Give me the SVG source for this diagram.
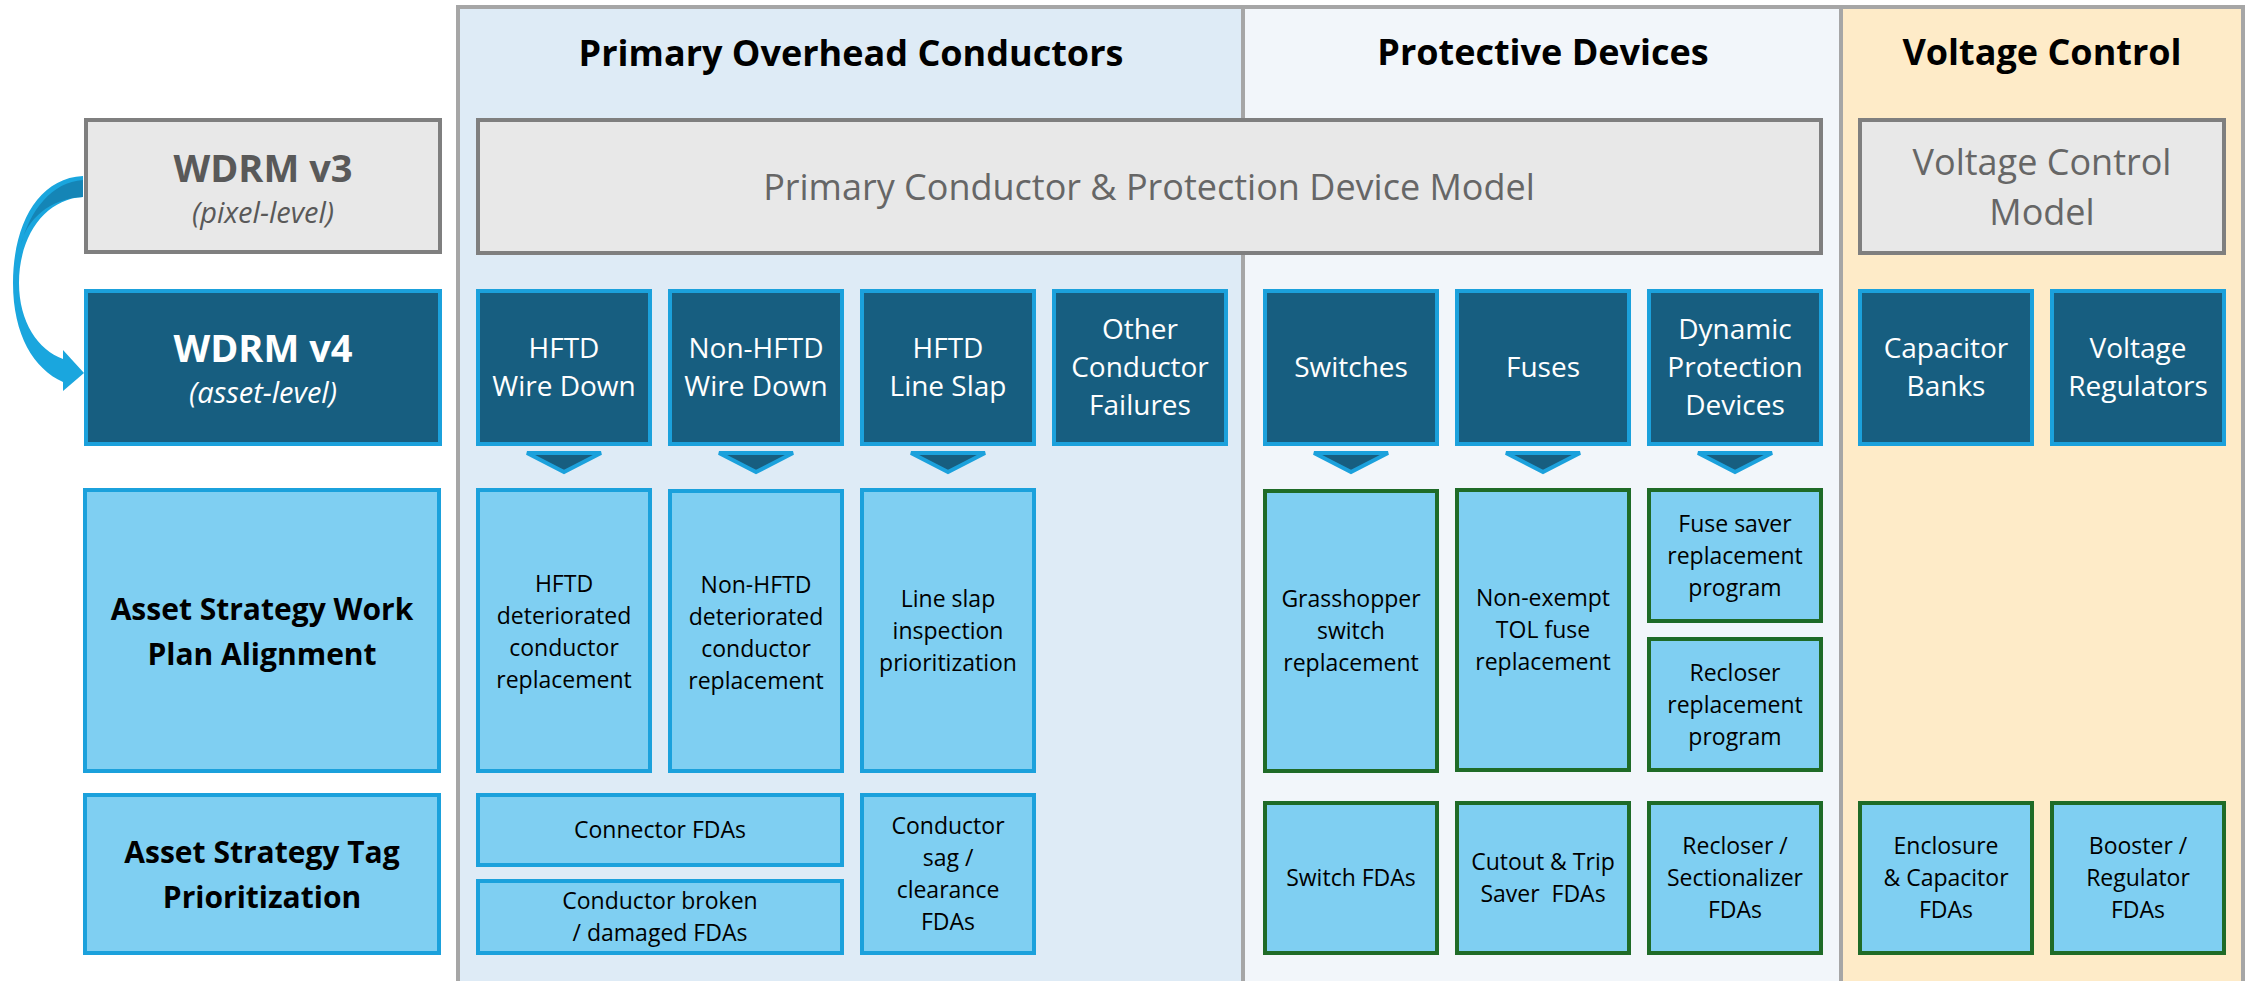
<svg xmlns="http://www.w3.org/2000/svg" width="2246" height="981" viewBox="0 0 2246 981">
  <style>
    .panel { stroke: #a6a6a6; stroke-width: 4; }
    .grey { fill: #e8e8e8; stroke: #7f7f7f; stroke-width: 4; }
    .dark { fill: #175e80; stroke: #1ba1dc; stroke-width: 4; }
    .light { fill: #7fcff2; stroke: #1ba1dc; stroke-width: 4; }
    .green { fill: #7fcff2; stroke: #1f6b27; stroke-width: 4; }
    .tri { fill: #175e80; stroke: #1ba1dc; stroke-width: 4; stroke-linejoin: miter; }
    text { font-family: "Open Sans", "Liberation Sans", sans-serif; text-anchor: middle; }
    .title { font-size: 36px; font-weight: 700; fill: #000; }
    .model { font-size: 36px; fill: #666; }
    .dk { font-size: 28px; fill: #fff; }
    .lt { font-size: 23px; fill: #000; }
    .lbl { font-size: 30px; font-weight: 700; fill: #000; }
    .ver { font-size: 38px; font-weight: 700; }
    .sub { font-size: 29px; font-style: italic; }
    .pre { white-space: pre; }
  </style>

  <rect width="2246" height="981" fill="#ffffff"/>

  <!-- column panels -->
  <g id="panels">
    <rect class="panel" x="458" y="7" width="785" height="1000" fill="#deebf6"/>
    <rect class="panel" x="1243" y="7" width="598" height="1000" fill="#f2f6fa"/>
    <rect class="panel" x="1841" y="7" width="402" height="1000" fill="#feebc8"/>
    <text class="title" x="851" y="66">Primary Overhead Conductors</text>
    <text class="title" x="1543" y="65">Protective Devices</text>
    <text class="title" x="2042" y="65">Voltage Control</text>
  </g>

  <!-- model versions -->
  <g id="wdrm-v3">
    <rect class="grey" x="86" y="120" width="354" height="132"/>
    <text class="ver" x="263" y="182" fill="#595959">WDRM v3</text>
    <text class="sub" x="263" y="223" fill="#595959">(pixel-level)</text>
  </g>
  <g id="wdrm-v4">
    <rect class="dark" x="86" y="291" width="354" height="153"/>
    <text class="ver" x="263" y="362" fill="#ffffff">WDRM v4</text>
    <text class="sub" x="263" y="403" fill="#ffffff">(asset-level)</text>
  </g>

  <g id="model-primary">
    <rect class="grey" x="478" y="120" width="1343" height="133"/>
    <text class="model" x="1149" y="200">Primary Conductor &amp; Protection Device Model</text>
  </g>
  <g id="model-voltage">
    <rect class="grey" x="1860" y="120" width="364" height="133"/>
    <text class="model" x="2042" y="175">Voltage Control</text>
    <text class="model" x="2042" y="225">Model</text>
  </g>

  <!-- failure modes / device types -->
  <g id="hftd-wire-down">
    <rect class="dark" x="478" y="291" width="172" height="153"/>
    <text class="dk" x="564" y="358">HFTD</text>
    <text class="dk" x="564" y="396">Wire Down</text>
  </g>
  <g id="non-hftd-wire-down">
    <rect class="dark" x="670" y="291" width="172" height="153"/>
    <text class="dk" x="756" y="358">Non-HFTD</text>
    <text class="dk" x="756" y="396">Wire Down</text>
  </g>
  <g id="hftd-line-slap">
    <rect class="dark" x="862" y="291" width="172" height="153"/>
    <text class="dk" x="948" y="358">HFTD</text>
    <text class="dk" x="948" y="396">Line Slap</text>
  </g>
  <g id="other-conductor">
    <rect class="dark" x="1054" y="291" width="172" height="153"/>
    <text class="dk" x="1140" y="339">Other</text>
    <text class="dk" x="1140" y="377">Conductor</text>
    <text class="dk" x="1140" y="415">Failures</text>
  </g>
  <g id="switches">
    <rect class="dark" x="1265" y="291" width="172" height="153"/>
    <text class="dk" x="1351" y="377">Switches</text>
  </g>
  <g id="fuses">
    <rect class="dark" x="1457" y="291" width="172" height="153"/>
    <text class="dk" x="1543" y="377">Fuses</text>
  </g>
  <g id="dynamic-protection">
    <rect class="dark" x="1649" y="291" width="172" height="153"/>
    <text class="dk" x="1735" y="339">Dynamic</text>
    <text class="dk" x="1735" y="377">Protection</text>
    <text class="dk" x="1735" y="415">Devices</text>
  </g>
  <g id="capacitor-banks">
    <rect class="dark" x="1860" y="291" width="172" height="153"/>
    <text class="dk" x="1946" y="358">Capacitor</text>
    <text class="dk" x="1946" y="396">Banks</text>
  </g>
  <g id="voltage-regulators">
    <rect class="dark" x="2052" y="291" width="172" height="153"/>
    <text class="dk" x="2138" y="358">Voltage</text>
    <text class="dk" x="2138" y="396">Regulators</text>
  </g>

  <!-- row labels -->
  <g id="label-work-plan">
    <rect class="light" x="85" y="490" width="354" height="281"/>
    <text class="lbl" x="262" y="620">Asset Strategy Work</text>
    <text class="lbl" x="262" y="665">Plan Alignment</text>
  </g>
  <g id="label-tag">
    <rect class="light" x="85" y="795" width="354" height="158"/>
    <text class="lbl" x="262" y="863">Asset Strategy Tag</text>
    <text class="lbl" x="262" y="908">Prioritization</text>
  </g>

  <!-- work plan programs -->
  <g id="hftd-replacement">
    <rect class="light" x="478" y="490" width="172" height="281"/>
    <text class="lt" x="564" y="592">HFTD</text>
    <text class="lt" x="564" y="624">deteriorated</text>
    <text class="lt" x="564" y="656">conductor</text>
    <text class="lt" x="564" y="688">replacement</text>
  </g>
  <g id="non-hftd-replacement">
    <rect class="light" x="670" y="491" width="172" height="280"/>
    <text class="lt" x="756" y="593">Non-HFTD</text>
    <text class="lt" x="756" y="625">deteriorated</text>
    <text class="lt" x="756" y="657">conductor</text>
    <text class="lt" x="756" y="689">replacement</text>
  </g>
  <g id="line-slap-inspection">
    <rect class="light" x="862" y="490" width="172" height="281"/>
    <text class="lt" x="948" y="607">Line slap</text>
    <text class="lt" x="948" y="639">inspection</text>
    <text class="lt" x="948" y="671">prioritization</text>
  </g>
  <g id="grasshopper">
    <rect class="green" x="1265" y="491" width="172" height="280"/>
    <text class="lt" x="1351" y="607">Grasshopper</text>
    <text class="lt" x="1351" y="639">switch</text>
    <text class="lt" x="1351" y="671">replacement</text>
  </g>
  <g id="tol-fuse">
    <rect class="green" x="1457" y="490" width="172" height="280"/>
    <text class="lt" x="1543" y="606">Non-exempt</text>
    <text class="lt" x="1543" y="638">TOL fuse</text>
    <text class="lt" x="1543" y="670">replacement</text>
  </g>
  <g id="fuse-saver">
    <rect class="green" x="1649" y="490" width="172" height="131"/>
    <text class="lt" x="1735" y="532">Fuse saver</text>
    <text class="lt" x="1735" y="564">replacement</text>
    <text class="lt" x="1735" y="596">program</text>
  </g>
  <g id="recloser-replacement">
    <rect class="green" x="1649" y="639" width="172" height="131"/>
    <text class="lt" x="1735" y="681">Recloser</text>
    <text class="lt" x="1735" y="713">replacement</text>
    <text class="lt" x="1735" y="745">program</text>
  </g>

  <!-- tag prioritization -->
  <g id="connector-fdas">
    <rect class="light" x="478" y="795" width="364" height="70"/>
    <text class="lt" x="660" y="838">Connector FDAs</text>
  </g>
  <g id="broken-fdas">
    <rect class="light" x="478" y="881" width="364" height="72"/>
    <text class="lt" x="660" y="909">Conductor broken</text>
    <text class="lt" x="660" y="941">/ damaged FDAs</text>
  </g>
  <g id="sag-fdas">
    <rect class="light" x="862" y="795" width="172" height="158"/>
    <text class="lt" x="948" y="834">Conductor</text>
    <text class="lt" x="948" y="866">sag /</text>
    <text class="lt" x="948" y="898">clearance</text>
    <text class="lt" x="948" y="930">FDAs</text>
  </g>
  <g id="switch-fdas">
    <rect class="green" x="1265" y="803" width="172" height="150"/>
    <text class="lt" x="1351" y="886">Switch FDAs</text>
  </g>
  <g id="cutout-fdas">
    <rect class="green" x="1457" y="803" width="172" height="150"/>
    <text class="lt" x="1543" y="870">Cutout &amp; Trip</text>
    <text class="lt pre" x="1543" y="902">Saver  FDAs</text>
  </g>
  <g id="recloser-fdas">
    <rect class="green" x="1649" y="803" width="172" height="150"/>
    <text class="lt" x="1735" y="854">Recloser /</text>
    <text class="lt" x="1735" y="886">Sectionalizer</text>
    <text class="lt" x="1735" y="918">FDAs</text>
  </g>
  <g id="enclosure-fdas">
    <rect class="green" x="1860" y="803" width="172" height="150"/>
    <text class="lt" x="1946" y="854">Enclosure</text>
    <text class="lt" x="1946" y="886">&amp; Capacitor</text>
    <text class="lt" x="1946" y="918">FDAs</text>
  </g>
  <g id="booster-fdas">
    <rect class="green" x="2052" y="803" width="172" height="150"/>
    <text class="lt" x="2138" y="854">Booster /</text>
    <text class="lt" x="2138" y="886">Regulator</text>
    <text class="lt" x="2138" y="918">FDAs</text>
  </g>

  <!-- connectors: v3 to v4 curved arrow and downward pointers -->
  <g id="connectors">
    <path d="M 83 176 C 38 178 13 225 13 283 C 13 335 34 369 63 382 L 63 391 L 84 373 L 63 350 L 63 359 C 38 350 19 322 19 283 C 19 236 45 199 83 197 Z" fill="#1aa6de"/>
    <path d="M 83 180 C 52 182 30 210 21 245 C 26 220 50 198 83 197 Z" fill="#1585b6"/>
    <polygon class="tri" points="527,453 601,453 564,472"/>
    <polygon class="tri" points="719,453 793,453 756,472"/>
    <polygon class="tri" points="911,453 985,453 948,472"/>
    <polygon class="tri" points="1314,453 1388,453 1351,472"/>
    <polygon class="tri" points="1506,453 1580,453 1543,472"/>
    <polygon class="tri" points="1698,453 1772,453 1735,472"/>
  </g>
</svg>
